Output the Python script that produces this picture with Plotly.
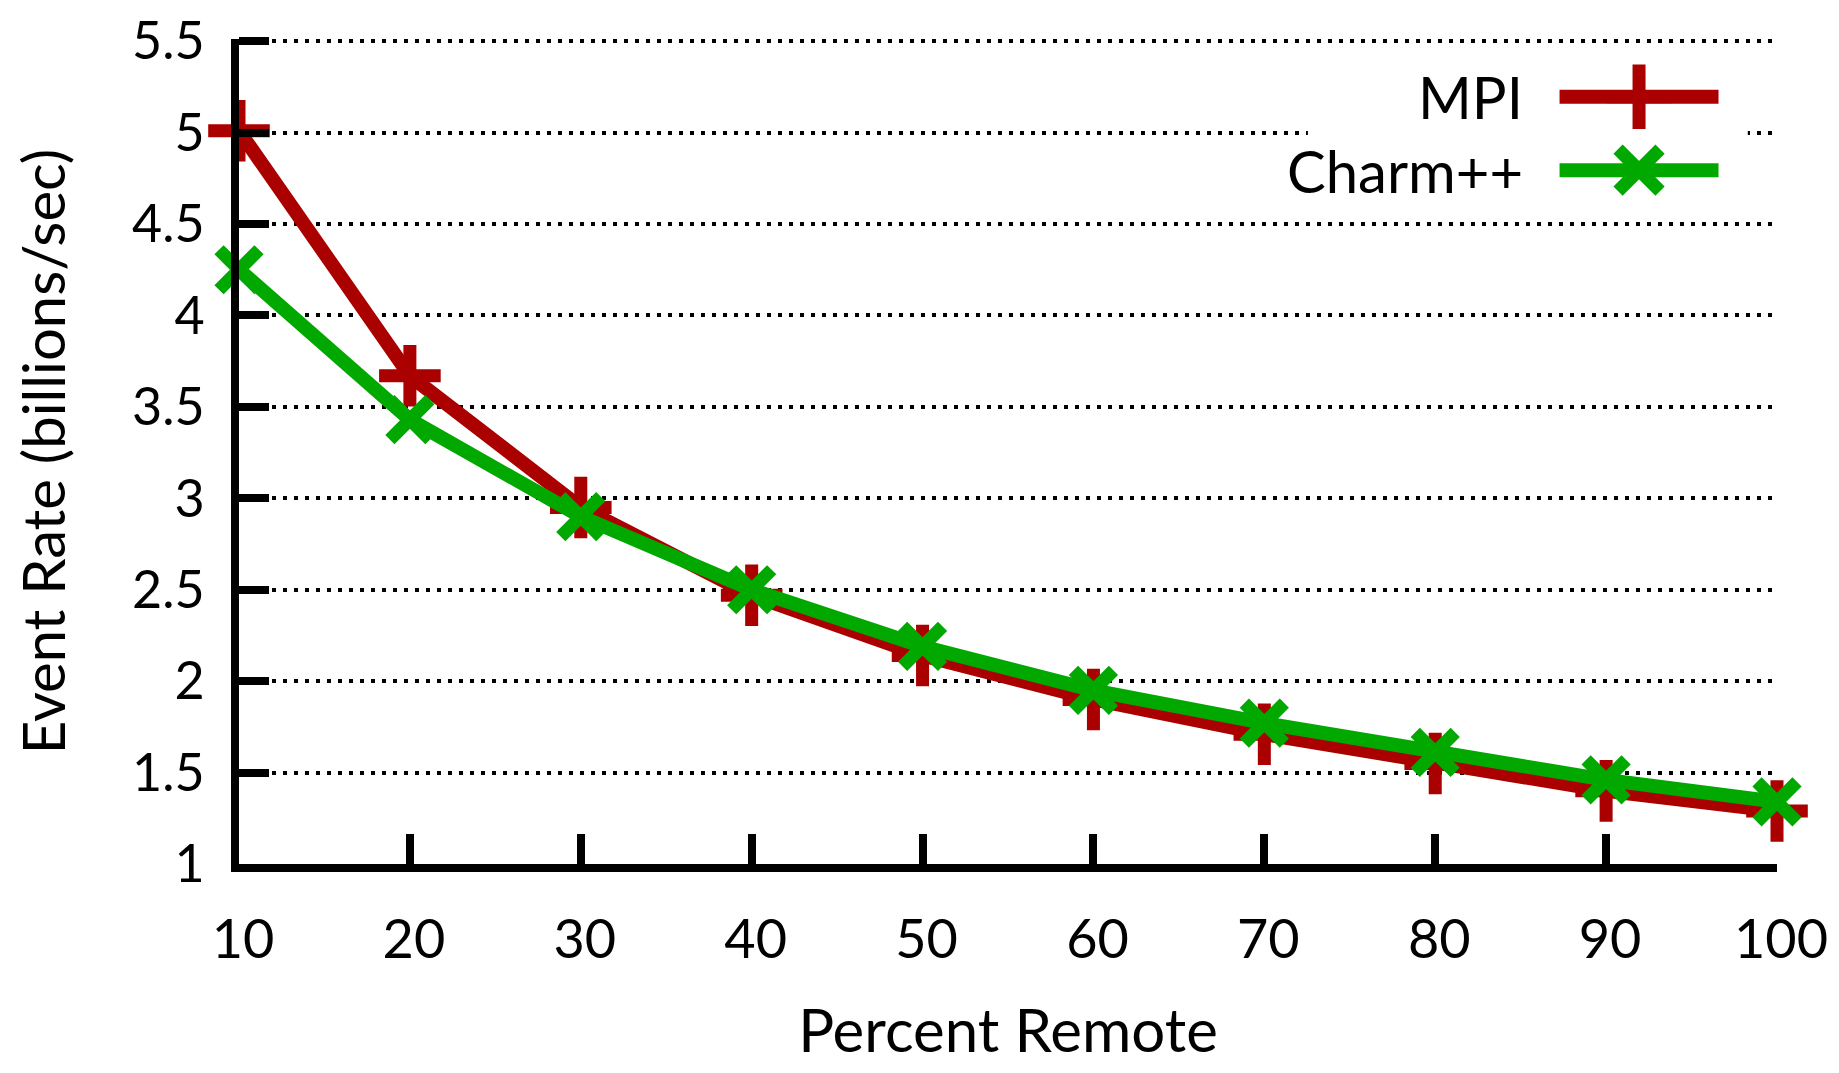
import plotly.graph_objects as go

percent_remote = [10, 20, 30, 40, 50, 60, 70, 80, 90, 100]
mpi_rate = [5.01, 3.67, 2.95, 2.47, 2.14, 1.90, 1.71, 1.55, 1.40, 1.29]
charm_rate = [4.25, 3.43, 2.90, 2.50, 2.19, 1.95, 1.77, 1.61, 1.46, 1.34]
y_ticks = [1, 1.5, 2, 2.5, 3, 3.5, 4, 4.5, 5, 5.5]
y_tick_labels = ["1", "1.5", "2", "2.5", "3", "3.5", "4", "4.5", "5", "5.5"]
x_ticks = percent_remote
x_tick_labels = [str(v) for v in percent_remote]
series_names = ["MPI", "Charm++"]

RED = "#AA0000"
GREEN = "#00A800"
FONT = "Lato"
LW = 14

fig = go.Figure()
fig.add_trace(go.Scatter(
    x=percent_remote, y=mpi_rate, mode="lines+markers", name=series_names[0],
    line=dict(color=RED, width=LW),
    marker=dict(symbol="cross-thin", size=44, color=RED, line=dict(color=RED, width=13)),
    cliponaxis=False, showlegend=False,
))
fig.add_trace(go.Scatter(
    x=percent_remote, y=charm_rate, mode="lines+markers", name=series_names[1],
    line=dict(color=GREEN, width=LW),
    marker=dict(symbol="x-thin", size=40, color=GREEN, line=dict(color=GREEN, width=13)),
    cliponaxis=False, showlegend=False,
))

# legend keys drawn in a small white-backed box subplot (decoration only)
legend_rows = [1, 0]
legend_colors = [RED, GREEN]
legend_symbols = ["cross-thin", "x-thin"]
legend_sizes = [46, 42]
for name, yrow, col, sym, sz in zip(series_names, legend_rows, legend_colors, legend_symbols, legend_sizes):
    fig.add_trace(go.Scatter(
        x=[0, 1], y=[yrow, yrow], mode="lines", xaxis="x2", yaxis="y2",
        line=dict(color=col, width=LW), cliponaxis=False, showlegend=False, hoverinfo="skip",
    ))
    fig.add_trace(go.Scatter(
        x=[0.5], y=[yrow], mode="markers", xaxis="x2", yaxis="y2",
        marker=dict(symbol=sym, size=sz, color=col, opacity=1, line=dict(color=col, width=13)),
        cliponaxis=False, showlegend=False, hoverinfo="skip",
    ))
    fig.add_annotation(
        x=-0.22, y=yrow, xref="x2", yref="y2", text=name, showarrow=False,
        xanchor="right", yanchor="middle", font=dict(family=FONT, size=58, color="black"),
    )

fig.update_layout(
    width=1823, height=1057,
    margin=dict(l=231, r=54, t=31, b=201),
    plot_bgcolor="white", paper_bgcolor="white",
    font=dict(family=FONT, size=54, color="black"),
    xaxis=dict(
        domain=[0, 1], range=[10, 100], tickmode="array", tickvals=x_ticks, ticktext=x_tick_labels,
        ticks="inside", ticklen=30, tickwidth=8, tickcolor="black",
        showline=True, linewidth=8, linecolor="black", showgrid=False, zeroline=False,
        ticklabelstandoff=21, ticklabelshift=4, automargin=False, tickfont=dict(size=54),
        ticklabeloverflow="allow",
        title=dict(text="Percent Remote", font=dict(family=FONT, size=60), standoff=88),
    ),
    yaxis=dict(
        domain=[0, 1], range=[1, 5.512], tickmode="array", tickvals=y_ticks, ticktext=y_tick_labels,
        ticks="inside", ticklen=30, tickwidth=8, tickcolor="black",
        showline=True, linewidth=8, linecolor="black",
        showgrid=True, gridcolor="black", gridwidth=4, griddash="4px,7px", zeroline=False,
        ticklabelstandoff=16, automargin=False, tickfont=dict(size=52), ticklabeloverflow="allow",
        title=dict(text="Event Rate (billions/sec)", font=dict(family=FONT, size=58), standoff=59),
    ),
    xaxis2=dict(domain=[0.695, 0.981], range=[-1.583, 1.184], visible=False, anchor="y2", showgrid=False),
    yaxis2=dict(domain=[0.799, 0.976], range=[-0.472, 1.517], visible=False, anchor="x2", showgrid=False),
)

fig.write_html("out.html")
